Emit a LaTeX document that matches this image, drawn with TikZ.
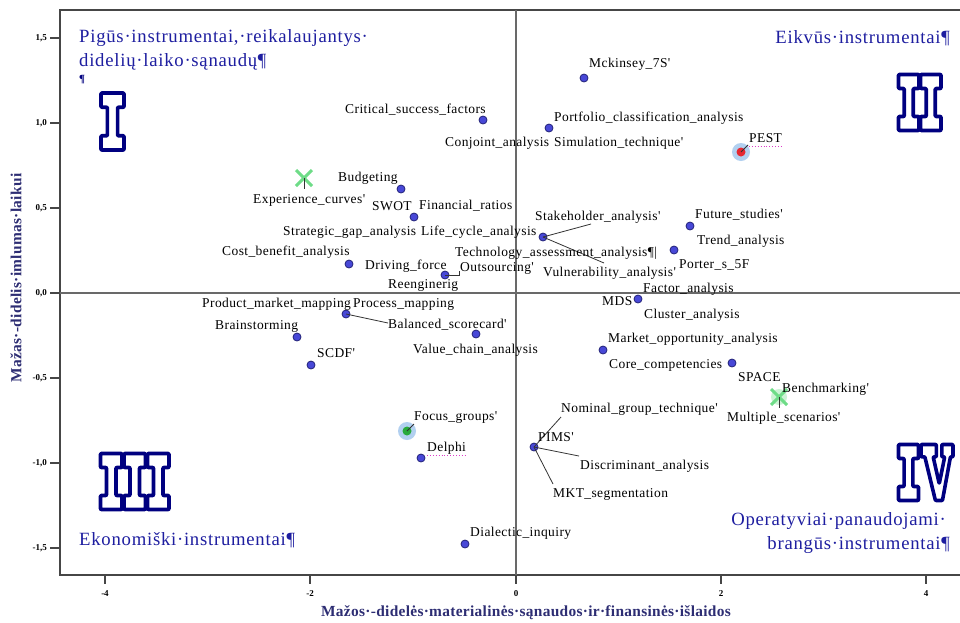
\documentclass[tikz,border=0pt]{standalone}
\usepackage{fontspec}
\setmainfont{Liberation Serif}
\newfontfamily\lblfam{Liberation Serif}[LetterSpace=3]
\newfontfamily\hdrfam{Liberation Serif}[LetterSpace=4]
\newfontfamily\ttlfam{Liberation Serif}[LetterSpace=2]

\definecolor{ptblue}{RGB}{72,72,215}
\definecolor{ptedge}{RGB}{35,35,120}
\definecolor{hdrblue}{RGB}{30,30,160}
\definecolor{numnavy}{RGB}{0,0,128}
\definecolor{ttlblue}{RGB}{45,45,115}
\definecolor{framegray}{RGB}{70,70,70}
\definecolor{axgray}{RGB}{105,105,105}
\definecolor{xgreen}{RGB}{110,220,135}
\definecolor{halo}{RGB}{178,208,240}
\definecolor{pestred}{RGB}{230,40,50}
\definecolor{fgreen}{RGB}{40,170,60}
\definecolor{squig}{RGB}{220,60,200}

% outlined slab-serif glyphs, drawn in a unit box
\newcommand\glyphI[4]{%
  \begin{scope}[shift={(#1,#2)}, x=#3pt, y=-#4pt]
    \draw[numeral] (0,0) -- (1,0) -- (1,0.25) -- (0.72,0.25) -- (0.72,0.75)
      -- (1,0.75) -- (1,1) -- (0,1) -- (0,0.75) -- (0.28,0.75) -- (0.28,0.25)
      -- (0,0.25) -- cycle;
  \end{scope}}
\newcommand\glyphV[4]{%
  \begin{scope}[shift={(#1,#2)}, x=#3pt, y=-#4pt]
    \draw[numeral] (0,0) -- (0.48,0) -- (0.48,0.22) -- (0.38,0.22) -- (0.57,0.70)
      -- (0.74,0.22) -- (0.65,0.22) -- (0.65,0) -- (1,0) -- (1,0.22) -- (0.92,0.22)
      -- (0.67,1) -- (0.45,1) -- (0.12,0.22) -- (0,0.22) -- cycle;
  \end{scope}}

\tikzset{
  lbl/.style={font=\lblfam\fontsize{13.5}{15}\selectfont, anchor=west, inner sep=0pt, text=black},
  hdr/.style={font=\hdrfam\fontsize{18.7}{21}\selectfont, text=hdrblue, inner sep=0pt},
  ttl/.style={font=\ttlfam\bfseries\fontsize{15.4}{17}\selectfont, text=ttlblue, inner sep=0pt},
  ticklbl/.style={font=\bfseries\fontsize{9}{10}\selectfont, inner sep=0pt},
  dot/.style={circle, inner sep=0pt, minimum size=8pt, fill=ptblue, draw=ptedge, line width=0.8pt},
  halodot/.style={circle, inner sep=0pt, minimum size=18pt, fill=halo},
  lead/.style={draw=black!80, line width=0.8pt},
  cross/.style={draw=xgreen, line width=3pt},
  numeral/.style={draw=numnavy, line width=3.6pt, fill=white, line join=round, rounded corners=0.8pt},
  squiggle/.style={draw=squig, dotted, line width=0.9pt},
}

\begin{document}
\begin{tikzpicture}[x=1pt, y=-1pt]
\useasboundingbox (0,0) rectangle (960,622);
\fill[white] (0,0) rectangle (960,622);

% frame (open towards the right edge) and the two zero axes
\draw[framegray, line width=2pt] (961,10) -- (60,10) -- (60,575) -- (961,575);
\draw[axgray, line width=1.5pt] (60,293) -- (961,293);
\draw[axgray, line width=1.5pt] (516,10) -- (516,575);

% y ticks
\foreach \yy/\tt in {38/{1,5},123/{1,0},208/{0,5},293/{0,0},378/{-0,5},463/{-1,0},548/{-1,5}}{
  \draw[framegray, line width=1.2pt] (50,\yy) -- (60,\yy);
  \node[ticklbl, anchor=east] at (47,\yy) {\tt};
}
% x ticks
\foreach \xx/\tt in {105/-4,310/-2,516/0,721/2,926/4}{
  \draw[framegray, line width=1.2pt] (\xx,575) -- (\xx,584);
  \node[ticklbl] at (\xx,594) {\tt};
}

% axis titles
\node[ttl] (xtitle) at (526,613) {Mažos·-didelės·materialinės·sąnaudos·ir·finansinės·išlaidos};
\node[ttl, rotate=90] (ytitle) at (16,278) {Mažas·-didelis·imlumas·laikui};

% quadrant numerals
\glyphI{101}{93}{23}{57}
\glyphI{898.5}{74.5}{20.5}{56}
\glyphI{920.5}{74.5}{20.5}{56}
\glyphI{100.5}{453.5}{21.5}{56}
\glyphI{124}{453.5}{21.5}{56}
\glyphI{147.5}{453.5}{21.5}{56}
\glyphI{898.5}{444.5}{20}{56}
\glyphV{921}{444.5}{32}{56}

% quadrant captions
\node[hdr, anchor=west] (q1a) at (79,38) {Pigūs·instrumentai,·reikalaujantys·};
\node[hdr, anchor=west] (q1b) at (79,62) {didelių·laiko·sąnaudų¶};
\node[font=\bfseries\fontsize{11}{12}\selectfont, text=numnavy, inner sep=0pt, anchor=west] (q1c) at (79,80) {¶};
\node[hdr, anchor=east] (q2) at (950,38) {Eikvūs·instrumentai¶};
\node[hdr, anchor=west] (q3) at (79,540) {Ekonomiški·instrumentai¶};
\node[hdr, anchor=east] (q4a) at (946,521) {Operatyviai·panaudojami·};
\node[hdr, anchor=east] (q4b) at (950,545) {brangūs·instrumentai¶};

% highlighted markers
\node[halodot] (pesthalo) at (741,152) {};
\node[circle, inner sep=0pt, minimum size=9pt, fill=pestred] (pest) at (741,152) {};
\node[halodot] (focushalo) at (407,431) {};
\node[circle, inner sep=0pt, minimum size=9pt, fill=fgreen] (focus) at (407,431) {};
\node[circle, inner sep=0pt, minimum size=16pt, fill=xgreen!35] (benchhalo) at (779,397) {};
\coordinate (expc) at (304,178);
\coordinate (bench) at (779,397);
\draw[cross] ([shift={(-8,-8)}]expc) -- ([shift={(8,8)}]expc);
\draw[cross] ([shift={(-8,8)}]expc) -- ([shift={(8,-8)}]expc);
\draw[cross] ([shift={(-8,-8)}]bench) -- ([shift={(8,8)}]bench);
\draw[cross] ([shift={(-8,8)}]bench) -- ([shift={(8,-8)}]bench);

% ordinary markers
\node[dot] (mck) at (584,78) {};
\node[dot] (csf) at (483,120) {};
\node[dot] (pca) at (549,128) {};
\node[dot] (budg) at (401,189) {};
\node[dot] (swot) at (414,217) {};
\node[dot] (cba) at (349,264) {};
\node[dot] (reen) at (445,275) {};
\node[dot] (stk) at (543,237) {};
\node[dot] (fut) at (690,226) {};
\node[dot] (por) at (674,250) {};
\node[dot] (mds) at (638,299) {};
\node[dot] (pmm) at (346,314) {};
\node[dot] (brn) at (297,337) {};
\node[dot] (vca) at (476,334) {};
\node[dot] (scdf) at (311,365) {};
\node[dot] (moa) at (603,350) {};
\node[dot] (core) at (732,363) {};
\node[dot] (delphi) at (421,458) {};
\node[dot] (pims) at (534,447) {};
\node[dot] (dial) at (465,544) {};

% leader lines
\coordinate (stkA) at (591,224);
\coordinate (stkB) at (604,263);
\coordinate (bscA) at (388,323);
\coordinate (pimsA) at (561,417);
\coordinate (pimsB) at (579,456);
\coordinate (pimsC) at (553,484);
\coordinate (outA) at (459,275);
\coordinate (outB) at (459,271);
\coordinate (expcA) at (304,189);
\coordinate (benchA) at (779,408);
\coordinate (focusA) at (414,424);
\coordinate (pestA) at (748,145);
\draw[lead] (stk.center) -- (stkA);
\draw[lead] (stk.center) -- (stkB);
\draw[lead] (pmm.center) -- (bscA);
\draw[lead] (pims.center) -- (pimsA);
\draw[lead] (pims.center) -- (pimsB);
\draw[lead] (pims.center) -- (pimsC);
\draw[lead] (reen.center) -- (outA) -- (outB);
\draw[lead] (expc) -- (expcA);
\draw[lead] (bench) -- (benchA);
\draw[lead] (focus.center) -- (focusA);
\draw[lead] (pest.center) -- (pestA);

% labels
\node[lbl] (tmck) at (589,64) {Mckinsey\_7S'};
\node[lbl] (tcsf) at (345,110) {Critical\_success\_factors};
\node[lbl] (tpca) at (554,118) {Portfolio\_classification\_analysis};
\node[lbl] (tconj) at (445,143) {Conjoint\_analysis};
\node[lbl] (tsim) at (554,143) {Simulation\_technique'};
\node[lbl] (tpest) at (749,138) {PEST};
\draw[squiggle] (749,146) -- (782,146);
\node[lbl] (tbudg) at (338,178) {Budgeting};
\node[lbl] (texpc) at (253,200) {Experience\_curves'};
\node[lbl] (tswot) at (372,206) {SWOT};
\node[lbl] (tfin) at (419,206) {Financial\_ratios};
\node[lbl] (tsga) at (283,232) {Strategic\_gap\_analysis};
\node[lbl] (tlca) at (421,232) {Life\_cycle\_analysis};
\node[lbl] (tcba) at (222,252) {Cost\_benefit\_analysis};
\node[lbl] (tdrv) at (365,266) {Driving\_force};
\node[lbl] (tout) at (460,268) {Outsourcing'};
\node[lbl] (treen) at (388,285) {Reenginerig};
\node[lbl] (ttech) at (455,253) {Technology\_assessment\_analysis¶|};
\node[lbl] (tstk) at (535,217) {Stakeholder\_analysis'};
\node[lbl] (tvul) at (543,273) {Vulnerability\_analysis'};
\node[lbl] (tfut) at (695,215) {Future\_studies'};
\node[lbl] (ttrend) at (697,241) {Trend\_analysis};
\node[lbl] (tpor) at (679,265) {Porter\_s\_5F};
\node[lbl] (tfac) at (643,289) {Factor\_analysis};
\node[lbl] (tmds) at (602,301) {MDS};
\node[lbl] (tclu) at (644,315) {Cluster\_analysis};
\node[lbl] (tmoa) at (608,339) {Market\_opportunity\_analysis};
\node[lbl] (tcore) at (609,365) {Core\_competencies};
\node[lbl] (tspace) at (738,377) {SPACE};
\node[lbl] (tbench) at (782,389) {Benchmarking'};
\node[lbl] (tmult) at (727,418) {Multiple\_scenarios'};
\node[lbl] (tngt) at (561,409) {Nominal\_group\_technique'};
\node[lbl] (tpims) at (538,437) {PIMS'};
\node[lbl] (tdis) at (580,466) {Discriminant\_analysis};
\node[lbl] (tmkt) at (553,494) {MKT\_segmentation};
\node[lbl] (tpmm) at (202,304) {Product\_market\_mapping};
\node[lbl] (tproc) at (353,304) {Process\_mapping};
\node[lbl] (tbsc) at (388,325) {Balanced\_scorecard'};
\node[lbl] (tbrn) at (215,326) {Brainstorming};
\node[lbl] (tscdf) at (317,353) {SCDF'};
\node[lbl] (tvca) at (413,350) {Value\_chain\_analysis};
\node[lbl] (tfocus) at (414,418) {Focus\_groups'};
\node[lbl] (tdelphi) at (427,448) {Delphi};
\draw[squiggle] (427,455) -- (466,455);
\node[lbl] (tdial) at (470,533) {Dialectic\_inquiry};
\end{tikzpicture}
\end{document}
